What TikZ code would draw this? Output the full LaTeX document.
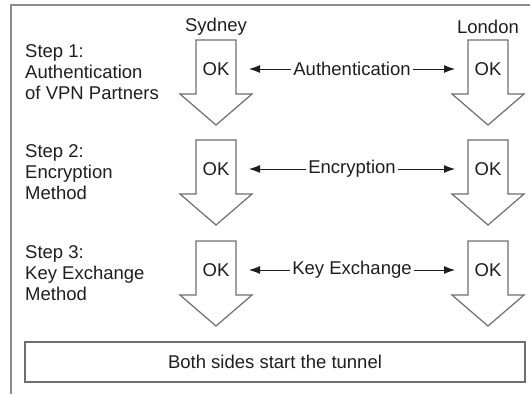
\documentclass[tikz,border=0pt]{standalone}
\usepackage{fontspec}
\setmainfont{Liberation Sans}
\usetikzlibrary{arrows.meta}

\definecolor{inkgray}{HTML}{1E1E1E}
\definecolor{outline}{HTML}{6E6E6E}
\definecolor{framegray}{HTML}{8C8C8C}

\tikzset{
  txt/.style={font=\fontsize{18.5}{21}\selectfont, text=inkgray, inner sep=0pt},
  steptext/.style={txt, align=left, anchor=west},
  oknode/.style={txt, minimum width=66pt, outer sep=0pt},
  linklabel/.style={txt, inner sep=2.5pt},
  conn/.style={draw=inkgray, line width=0.9pt, -{Latex[length=11pt,width=8pt]}},
  arrowline/.style={draw=outline, line width=1.2pt, fill=white, line join=miter},
  flowarrow/.pic={
    \path[arrowline] (-20,-29) -- (20,-29) -- (20,25) -- (36,25) -- (0,56)
      -- (-36,25) -- (-20,25) -- cycle;
  }
}

\begin{document}
\begin{tikzpicture}[x=1pt, y=-1pt]
  \useasboundingbox (0,0) rectangle (530,394);

  % outer frame (only the top and left edges are visible)
  \draw[framegray, line width=1.2pt] (11,394) -- (11,5) -- (530,5);

  % column headings
  \node[txt] (sydney) at (216,27) {Sydney};
  \node[txt] (london) at (488,27) {London};

  % the three negotiation steps
  \foreach \i/\y/\steplabel/\linklab in {
      1/69/{Step 1:\\Authentication\\of VPN Partners}/Authentication,
      2/169/{Step 2:\\Encryption\\Method}/Encryption,
      3/270/{Step 3:\\Key Exchange\\Method}/Key Exchange} {
    \node[steptext] (step\i) at (25,\y+3) {\steplabel};
    \pic at (216,\y) {flowarrow};
    \pic at (488,\y) {flowarrow};
    \node[oknode] (okS\i) at (216,\y) {OK};
    \node[oknode] (okL\i) at (488,\y) {OK};
    \node[linklabel] (link\i) at (352,\y) {\linklab};
    \draw[conn] (link\i.west) -- (okS\i.east);
    \draw[conn] (link\i.east) -- (okL\i.west);
  }

  % final result
  \node[txt, draw=outline, line width=1.2pt, minimum width=500pt,
        minimum height=40pt] (tunnel) at (275,362) {Both sides start the tunnel};
\end{tikzpicture}
\end{document}
